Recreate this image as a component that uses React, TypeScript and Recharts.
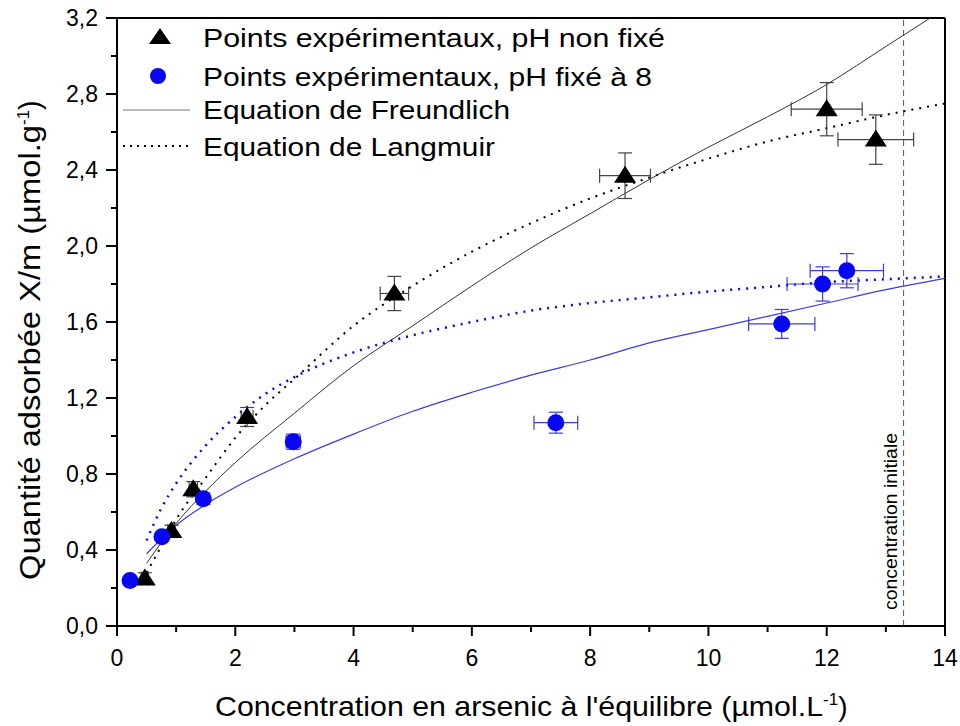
import React from 'react';
import {
  ComposedChart, Line, Scatter, ErrorBar, XAxis, YAxis, ReferenceLine, Label,
} from 'recharts';

// experimental points (x = C eq, y = X/m, ex/ey = half error bars)
const ptsNonFixe = [
  { x: 0.47, y: 0.25, ex: 0.06, ey: 0.03 },
  { x: 0.92, y: 0.5, ex: 0.06, ey: 0.03 },
  { x: 1.29, y: 0.72, ex: 0.07, ey: 0.04 },
  { x: 2.2, y: 1.1, ex: 0.1, ey: 0.05 },
  { x: 4.69, y: 1.75, ex: 0.24, ey: 0.09 },
  { x: 8.59, y: 2.37, ex: 0.43, ey: 0.12 },
  { x: 12.0, y: 2.72, ex: 0.6, ey: 0.14 },
  { x: 12.83, y: 2.56, ex: 0.64, ey: 0.13 },
];

const ptsFixe8 = [
  { x: 0.22, y: 0.24, ex: 0.01, ey: 0.01 },
  { x: 0.76, y: 0.47, ex: 0.04, ey: 0.02 },
  { x: 1.46, y: 0.67, ex: 0.07, ey: 0.03 },
  { x: 2.98, y: 0.97, ex: 0.12, ey: 0.04 },
  { x: 7.42, y: 1.07, ex: 0.37, ey: 0.055 },
  { x: 11.24, y: 1.59, ex: 0.56, ey: 0.076 },
  { x: 11.93, y: 1.8, ex: 0.6, ey: 0.09 },
  { x: 12.34, y: 1.87, ex: 0.62, ey: 0.09 },
];

// fitted curves
const freundlichNonFixe = [
  { x: 0.5, y: 0.33 }, { x: 1, y: 0.54 }, { x: 1.5, y: 0.71 }, { x: 2, y: 0.86 },
  { x: 3, y: 1.12 }, { x: 4, y: 1.37 }, { x: 5, y: 1.58 }, { x: 6, y: 1.79 },
  { x: 7, y: 1.99 }, { x: 8, y: 2.17 }, { x: 9, y: 2.35 }, { x: 10, y: 2.52 },
  { x: 11, y: 2.68 }, { x: 12, y: 2.85 }, { x: 13, y: 3.05 }, { x: 14, y: 3.25 },
];

const langmuirNonFixe = [
  { x: 0.5, y: 0.28 }, { x: 0.75, y: 0.42 }, { x: 1, y: 0.56 }, { x: 1.5, y: 0.78 },
  { x: 2, y: 0.99 }, { x: 2.5, y: 1.16 }, { x: 3, y: 1.3 }, { x: 4, y: 1.58 },
  { x: 5, y: 1.79 }, { x: 6, y: 1.97 }, { x: 7, y: 2.12 }, { x: 8, y: 2.25 },
  { x: 9, y: 2.36 }, { x: 10, y: 2.46 }, { x: 11, y: 2.55 }, { x: 12, y: 2.62 },
  { x: 13, y: 2.69 }, { x: 14, y: 2.75 },
];

const freundlichFixe8 = [
  { x: 0.5, y: 0.38 }, { x: 1, y: 0.53 }, { x: 1.5, y: 0.64 }, { x: 2, y: 0.73 },
  { x: 3, y: 0.88 }, { x: 4, y: 1.01 }, { x: 5, y: 1.13 }, { x: 6, y: 1.23 },
  { x: 7, y: 1.32 }, { x: 8, y: 1.4 }, { x: 9, y: 1.49 }, { x: 10, y: 1.56 },
  { x: 11, y: 1.63 }, { x: 12, y: 1.7 }, { x: 13, y: 1.77 }, { x: 14, y: 1.83 },
];

const langmuirFixe8 = [
  { x: 0.5, y: 0.45 }, { x: 0.75, y: 0.62 }, { x: 1, y: 0.75 }, { x: 1.5, y: 0.95 },
  { x: 2, y: 1.1 }, { x: 2.5, y: 1.22 }, { x: 3, y: 1.31 }, { x: 4, y: 1.44 },
  { x: 5, y: 1.53 }, { x: 6, y: 1.6 }, { x: 7, y: 1.66 }, { x: 8, y: 1.7 },
  { x: 9, y: 1.73 }, { x: 10, y: 1.76 }, { x: 11, y: 1.785 }, { x: 12, y: 1.81 },
  { x: 13, y: 1.825 }, { x: 14, y: 1.84 },
];

const xTicks = [0, 1, 2, 3, 4, 5, 6, 7, 8, 9, 10, 11, 12, 13, 14];
const yTicks = [0, 0.2, 0.4, 0.6, 0.8, 1.0, 1.2, 1.4, 1.6, 1.8, 2.0, 2.2, 2.4, 2.6, 2.8, 3.0, 3.2];
const concInitiale = 13.3;

const FONT = '"Liberation Sans", Arial, sans-serif';
const BLUE = '#0808f0';
const BLUE_LINE = '#3c3cdc';

const XTick = (props: any) => {
  const { x, y, payload } = props;
  const major = Math.round(payload.value) % 2 === 0;
  return (
    <g>
      <line x1={x} x2={x} y1={y} y2={y + (major ? 10 : 6)} stroke="#000" strokeWidth={2} />
      {major && (
        <text x={x} y={y + 40} textAnchor="middle" fontSize={23} fontFamily={FONT} fill="#000">
          {payload.value}
        </text>
      )}
    </g>
  );
};

const YTick = (props: any) => {
  const { x, y, payload } = props;
  const major = Math.round(payload.value * 10) % 4 === 0;
  return (
    <g>
      <line x1={x} x2={x - (major ? 11 : 6)} y1={y} y2={y} stroke="#000" strokeWidth={2} />
      {major && (
        <text x={x - 19} y={y + 8} textAnchor="end" fontSize={23} fontFamily={FONT} fill="#000">
          {payload.value.toFixed(1).replace('.', ',')}
        </text>
      )}
    </g>
  );
};

const Triangle = (props: any) => {
  const { cx, cy } = props;
  return <polygon points={`${cx},${cy - 10} ${cx - 11},${cy + 7} ${cx + 11},${cy + 7}`} fill="#000" />;
};

const Dot = (props: any) => {
  const { cx, cy } = props;
  return <circle cx={cx} cy={cy} r={8.5} fill={BLUE} />;
};

const Legend = () => (
  <svg width={700} height={170} style={{ position: 'absolute', left: 0, top: 0 }}>
    <g fontFamily={FONT} fontSize={26} fill="#000">
      <polygon points="160,28 149,44 171,44" fill="#000" />
      <text x={203} y={47} textLength={462} lengthAdjust="spacingAndGlyphs">Points expérimentaux, pH non fixé</text>
      <circle cx={158} cy={76} r={8} fill={BLUE} />
      <text x={203} y={86} textLength={449} lengthAdjust="spacingAndGlyphs">Points expérimentaux, pH fixé à 8</text>
      <line x1={123} x2={190} y1={110} y2={110} stroke="#777" strokeWidth={1.2} />
      <text x={203} y={119} textLength={307} lengthAdjust="spacingAndGlyphs">Equation de Freundlich</text>
      <line x1={123} x2={190} y1={146} y2={146} stroke="#000" strokeWidth={2} strokeDasharray="2 5" />
      <text x={203} y={156} textLength={292} lengthAdjust="spacingAndGlyphs">Equation de Langmuir</text>
    </g>
  </svg>
);

export default function App() {
  return (
    <div style={{ position: 'absolute', left: 0, top: 0, width: 960, height: 726, background: '#fff' }}>
      <ComposedChart width={960} height={726} margin={{ top: 18, right: 15, bottom: 40, left: 57 }}>
        <XAxis
          type="number" dataKey="x" domain={[0, 14]} ticks={xTicks} interval={0}
          allowDataOverflow tick={XTick} tickSize={0} tickMargin={0} tickLine={false}
          axisLine={{ stroke: '#000', strokeWidth: 2 }} height={60}
        >
          <Label
            content={() => (
              <text x={215} y={716} fontSize={28} fontFamily={FONT} fill="#000">
                <tspan textLength={608} lengthAdjust="spacingAndGlyphs">Concentration en arsenic à l'équilibre (µmol.L</tspan>
                <tspan dy={-11} fontSize={17}>-1</tspan>
                <tspan dy={11}>)</tspan>
              </text>
            )}
          />
        </XAxis>
        <YAxis
          type="number" dataKey="y" domain={[0, 3.2]} ticks={yTicks} interval={0}
          allowDataOverflow tick={YTick} tickSize={0} tickMargin={0} tickLine={false}
          axisLine={{ stroke: '#000', strokeWidth: 2 }} width={60}
        >
          <Label
            content={() => (
              <text
                x={40} y={580} fontSize={29} fontFamily={FONT} fill="#000"
                transform="rotate(-90 40 580)"
              >
                <tspan textLength={455} lengthAdjust="spacingAndGlyphs">Quantité adsorbée X/m (µmol.g</tspan>
                <tspan dy={-11} fontSize={17}>-1</tspan>
                <tspan dy={11}>)</tspan>
              </text>
            )}
          />
        </YAxis>
        <ReferenceLine y={3.2} stroke="#000" strokeWidth={2} />
        <ReferenceLine x={14} stroke="#000" strokeWidth={2} />
        <ReferenceLine
          x={concInitiale} stroke="#555" strokeDasharray="6 4"
          label={(p: any) => {
            const vx = p.viewBox.x - 7;
            return (
              <text
                x={vx} y={610} fontSize={19} fontFamily={FONT} fill="#000"
                transform={`rotate(-90 ${vx} 610)`} textLength={177} lengthAdjust="spacingAndGlyphs"
              >
                concentration initiale
              </text>
            );
          }}
        />
        <Line data={freundlichNonFixe} dataKey="y" type="monotone" stroke="#333" strokeWidth={1} dot={false} isAnimationActive={false} />
        <Line data={langmuirNonFixe} dataKey="y" type="monotone" stroke="#000" strokeWidth={2} strokeDasharray="2 6" dot={false} isAnimationActive={false} />
        <Line data={freundlichFixe8} dataKey="y" type="monotone" stroke={BLUE_LINE} strokeWidth={1.2} dot={false} isAnimationActive={false} />
        <Line data={langmuirFixe8} dataKey="y" type="monotone" stroke={BLUE} strokeWidth={2.5} strokeDasharray="2 6" dot={false} isAnimationActive={false} />
        <Scatter data={ptsNonFixe} shape={Triangle} isAnimationActive={false}>
          <ErrorBar dataKey="ex" direction="x" width={7} stroke="#444" strokeWidth={1.2} />
          <ErrorBar dataKey="ey" direction="y" width={7} stroke="#444" strokeWidth={1.2} />
        </Scatter>
        <Scatter data={ptsFixe8} shape={Dot} isAnimationActive={false}>
          <ErrorBar dataKey="ex" direction="x" width={7} stroke={BLUE_LINE} strokeWidth={1.2} />
          <ErrorBar dataKey="ey" direction="y" width={7} stroke={BLUE_LINE} strokeWidth={1.2} />
        </Scatter>
      </ComposedChart>
      <Legend />
    </div>
  );
}
